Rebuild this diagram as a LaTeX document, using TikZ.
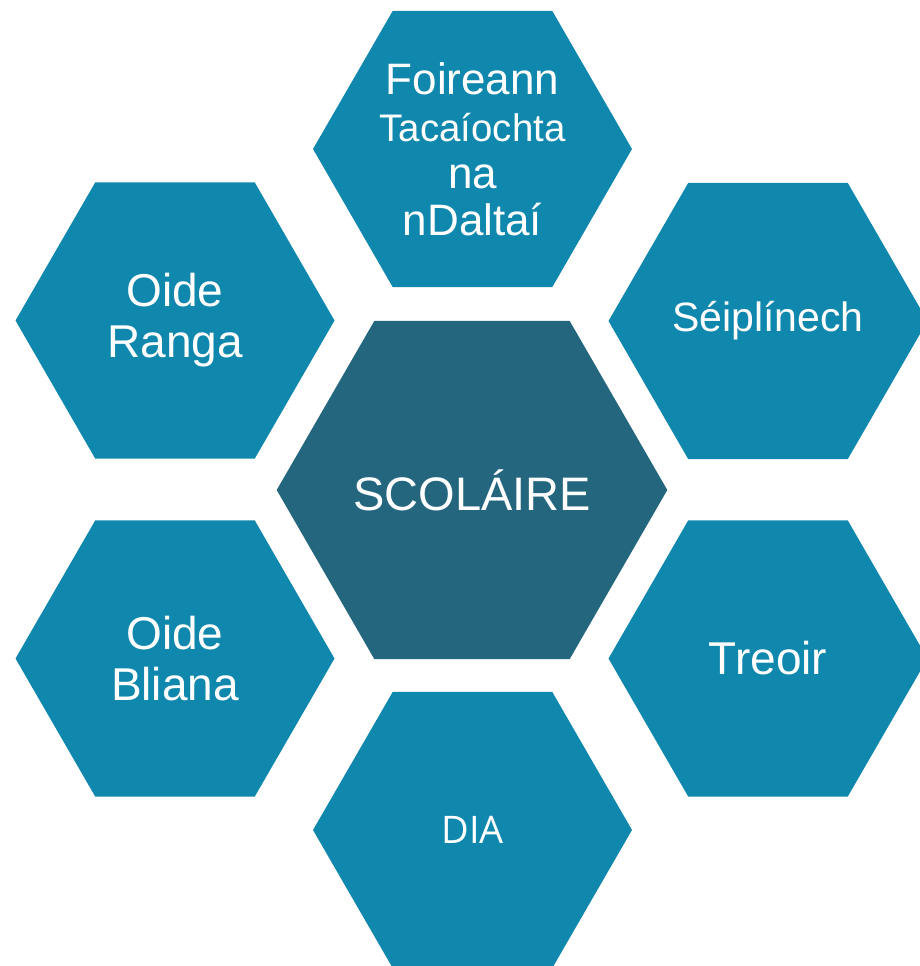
\documentclass[tikz,border=0pt]{standalone}
\usepackage{fontspec}
\setmainfont{Liberation Sans}
\newfontfamily\diafont{Open Sans}
\usetikzlibrary{shapes.geometric}
\definecolor{hexblue}{RGB}{16,136,173}
\definecolor{hexdark}{RGB}{37,102,127}

\begin{document}
\begin{tikzpicture}[x=0.5pt, y=-0.5pt,
    hexcell/.style={regular polygon, regular polygon sides=6,
        minimum size=159.5pt, inner sep=0pt, outer sep=0pt, fill=hexblue,
        text=white, align=center, font=\fontsize{23}{25.5}\selectfont},
    hexcentre/.style={hexcell, minimum size=195.3pt, fill=hexdark}]
    \clip (0,0) rectangle (920,966);

    % Centre cell
    \node[hexcentre, font=\fontsize{23.5}{26}\selectfont] (scolaire) at (472,490) {SCOLÁIRE};

    % Cells round the centre
    \node[hexcell, font=\fontsize{22}{23.5}\selectfont] (foireann) at (472.5,149)
        {Foireann\\{\fontsize{19.2}{23.5}\selectfont Tacaíochta}\\na\\nDaltaí};
    \node[hexcell, font=\fontsize{20.5}{24}\selectfont] (seiplineach) at (768,321) {Séiplínech};
    \node[hexcell] (treoir) at (768,658.5) {Treoir};
    \node[hexcell, font=\diafont\fontsize{19}{22}\selectfont] (dia) at (472.5,830) {DIA};
    \node[hexcell] (bliana) at (175,658.5) {Oide\\Bliana};
    \node[hexcell] (ranga) at (175,320.5) {Oide\\Ranga};
\end{tikzpicture}
\end{document}
